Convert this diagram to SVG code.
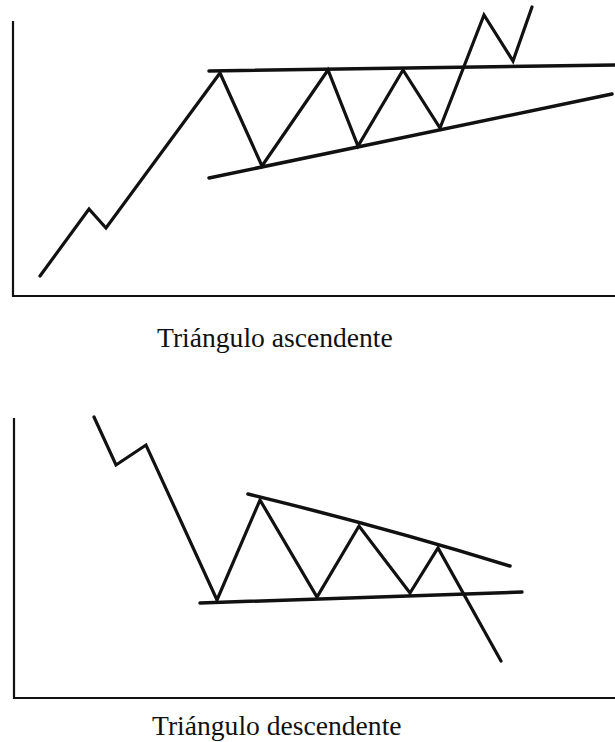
<svg xmlns="http://www.w3.org/2000/svg" width="615" height="742" viewBox="0 0 615 742">
<style>
.axis{fill:none;stroke:#111;stroke-width:2.2;stroke-linecap:square}
.trend{fill:none;stroke:#111;stroke-width:3.5;stroke-linecap:round}
.price{fill:none;stroke:#111;stroke-width:3.2;stroke-linejoin:miter;stroke-linecap:round}
.label{font-family:"Liberation Serif","Times New Roman",serif;font-size:27.6px;fill:#111}
</style>
<rect width="615" height="742" fill="#fff"/>
<g id="ascending">
  <g id="asc-axes"><polyline class="axis" points="13,22 13,296 615,296"/></g>
  <g id="asc-trendlines">
    <line class="trend" x1="209" y1="71" x2="615" y2="65"/>
    <line class="trend" x1="209" y1="178" x2="612" y2="94"/>
  </g>
  <g id="asc-price"><polyline class="price" points="40,276 89,209 106,228 220,73 262,166 328,70 358,146 403,70 440,128 484,15 513,61 532,7"/></g>
  <g id="asc-label"><text class="label" x="157" y="347">Triángulo ascendente</text></g>
</g>
<g id="descending">
  <g id="desc-axes"><polyline class="axis" points="14,419 14,698 615,698"/></g>
  <g id="desc-trendlines">
    <path class="trend" d="M248,494 Q380,526 510,566"/>
    <line class="trend" x1="200" y1="603" x2="522" y2="592"/>
  </g>
  <g id="desc-price"><polyline class="price" points="94,417 116,465 146,445 217,600 260,500 317,597 359,526 410,593 438,548 501,661"/></g>
  <g id="desc-label"><text class="label" x="152" y="735">Triángulo descendente</text></g>
</g>
</svg>
